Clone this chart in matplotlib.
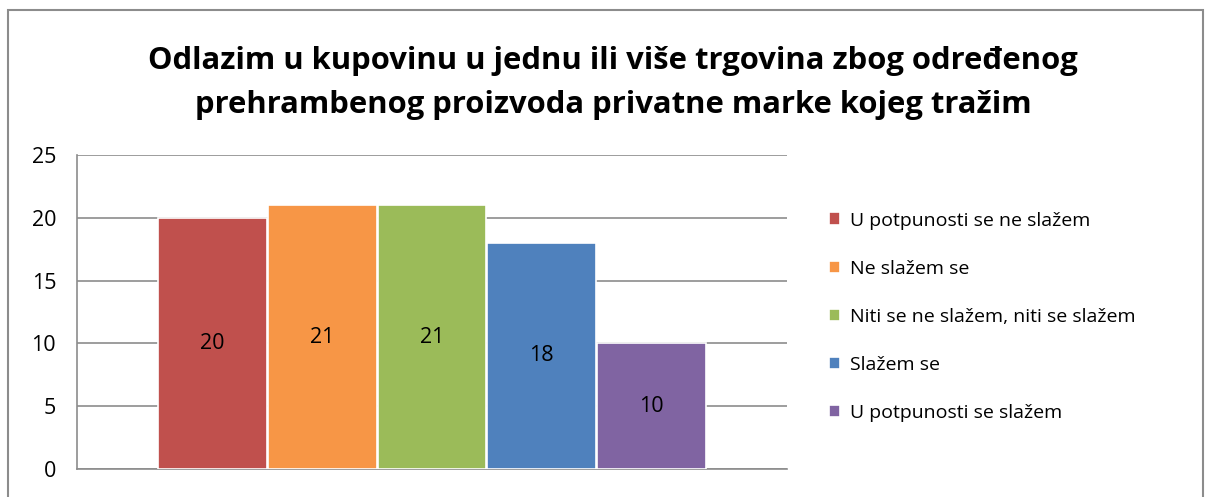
import matplotlib.pyplot as plt
from matplotlib.patches import Rectangle

# answer categories and counts
categories = ["U potpunosti se ne slažem", "Ne slažem se",
              "Niti se ne slažem, niti se slažem", "Slažem se",
              "U potpunosti se slažem"]
counts = [20, 21, 21, 18, 10]
colors = ["#C0504D", "#F79646", "#9BBB59", "#4F81BD", "#8064A2"]
title = ("Odlazim u kupovinu u jednu ili više trgovina zbog određenog\n"
         "prehrambenog proizvoda privatne marke kojeg tražim")

W, H = 1206, 497
fig = plt.figure(figsize=(W / 100, H / 100), dpi=100)
plt.rcParams['font.family'] = ['Open Sans', 'DejaVu Sans']

# outer chart border
fig.patches.append(Rectangle((8 / W, -0.05), 1195 / W, 1.05 - 10 / H,
                             transform=fig.transFigure, fill=False,
                             edgecolor="#8c8c8c", lw=1.5))

ax = fig.add_axes([77 / W, 28 / H, 710 / W, 314 / H])

width = 0.1535
n = len(counts)
xs = [(i - (n - 1) / 2) * (width + 0.001) for i in range(n)]
bars = []
for x, c, col, lab in zip(xs, counts, colors, categories):
    b = ax.bar(x, c, width=width, color=col, edgecolor="white", lw=1.2,
               label=lab, zorder=3)
    ax.bar_label(b, label_type="center", fontsize=15.5, color="black")
    bars.append(b)

ax.set_xlim(-0.5, 0.5)
ax.set_ylim(0, 25)
ax.set_yticks(range(0, 26, 5))
ax.yaxis.grid(True, color="#8c8c8c", lw=1.2, zorder=0)
ax.set_xticks([])
ax.tick_params(axis="y", length=0, pad=15, labelsize=15.5)
for s in ["top", "right"]:
    ax.spines[s].set_visible(False)
ax.spines["left"].set_color("#8c8c8c")
ax.spines["bottom"].set_color("#8c8c8c")
ax.spines["left"].set_linewidth(1.2)
ax.spines["bottom"].set_linewidth(1.2)

fig.text(613 / W, 1 - 83 / H, title, ha="center", va="center",
         fontsize=22.3, fontweight="bold", linespacing=1.6)

fig.legend(handles=bars, labels=categories, loc="upper left",
           bbox_to_anchor=(811 / W, 1 - 194 / H), frameon=False,
           fontsize=14, handlelength=0.6, handleheight=0.6,
           handletextpad=0.5, labelspacing=1.55)

fig.savefig("out.png", dpi=100)
